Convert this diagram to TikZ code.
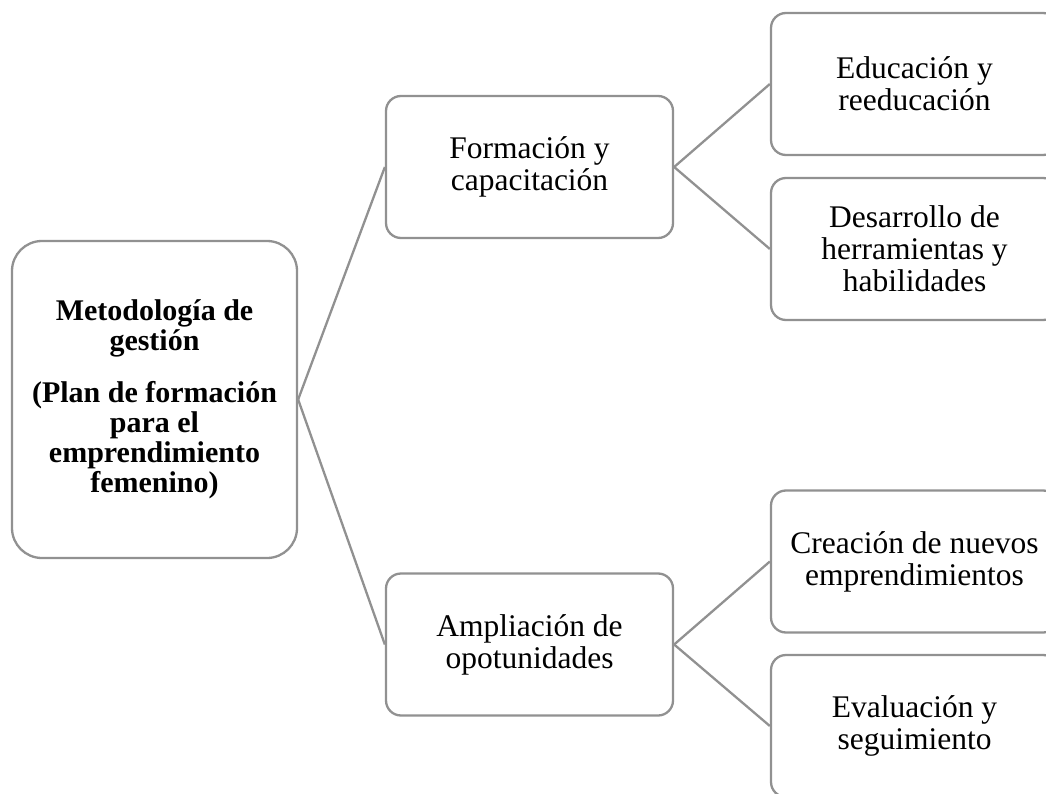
\documentclass[tikz,border=0pt]{standalone}
\usepackage{fontspec}
\setmainfont{Liberation Serif}
\definecolor{linegray}{RGB}{145,145,145}
\begin{document}
\begin{tikzpicture}[x=1pt,y=-1pt,
  box/.style={draw=linegray, line width=2.3pt, rounded corners=15pt, fill=white,
    minimum width=287pt, minimum height=142pt, align=center, inner sep=0pt,
    font=\fontsize{31.5}{32}\selectfont, text=black},
  rootbox/.style={box, minimum width=285pt, minimum height=317pt, rounded corners=30pt,
    font=\bfseries\fontsize{30}{30}\selectfont},
  link/.style={draw=linegray, line width=2.3pt}]
\useasboundingbox (0,0) rectangle (1046,794);
\begin{scope}
\clip (0,0) rectangle (1046,794);
\node[rootbox] (root) at (154.5,399.5) {Metodología de\\gestión\\[22pt](Plan de formación\\para el\\emprendimiento\\femenino)};
\node[box] (form) at (529.5,167) {Formación y\\capacitación};
\node[box] (ampl) at (529.5,644.5) {Ampliación de\\opotunidades};
\node[box] (edu) at (914.5,84) {Educación y\\reeducación};
\node[box] (des) at (914.5,249) {Desarrollo de\\herramientas y\\habilidades};
\node[box] (crea) at (914.5,561.5) {Creación de nuevos\\emprendimientos};
\node[box] (eval) at (914.5,726) {Evaluación y\\seguimiento};
\draw[link] (root.east) -- (form.west);
\draw[link] (root.east) -- (ampl.west);
\draw[link] (form.east) -- (edu.west);
\draw[link] (form.east) -- (des.west);
\draw[link] (ampl.east) -- (crea.west);
\draw[link] (ampl.east) -- (eval.west);
\end{scope}
\end{tikzpicture}
\end{document}
